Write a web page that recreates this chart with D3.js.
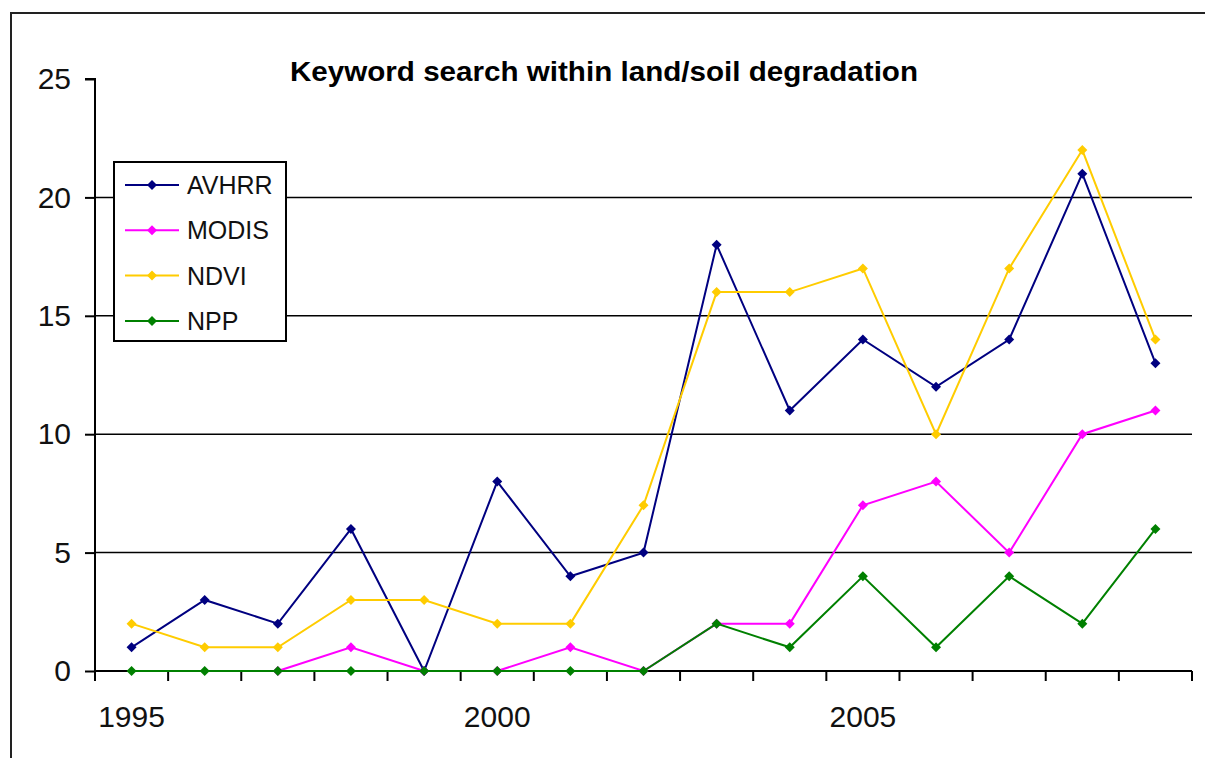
<!DOCTYPE html>
<html><head><meta charset="utf-8">
<script src="https://cdn.jsdelivr.net/npm/d3@7"></script>
<style>body{margin:0;background:#fff}svg{display:block}text{font-family:Arial,"Liberation Sans",sans-serif}</style>
</head><body><svg id="c" width="1205" height="758"></svg>
<script>
const years = [1995,1996,1997,1998,1999,2000,2001,2002,2003,2004,2005,2006,2007,2008,2009];
const AVHRR = [1,3,2,6,0,8,4,5,18,11,14,12,14,21,13];
const MODIS = [null,null,0,1,0,0,1,0,2,2,7,8,5,10,11];
const NDVI  = [2,1,1,3,3,2,2,7,16,16,17,10,17,22,14];
const NPP   = [0,0,0,0,0,0,0,0,2,1,4,1,4,2,6];
const seriesNames = ["AVHRR","MODIS","NDVI","NPP"];
const seriesColors = ["#000080","#FF00FF","#FFCC00","#008000"];
const yTicks = [0,5,10,15,20,25];
const xLabels = [1995,2000,2005];
const title = "Keyword search within land/soil degradation";

const series = [AVHRR, MODIS, NDVI, NPP];
const svg = d3.select("#c");
const L=95, R=1192, T=79, B=671;

svg.append("rect").attr("x",11).attr("y",13).attr("width",1220).attr("height",780)
  .attr("fill","none").attr("stroke","#222").attr("stroke-width",2);

const x = d3.scaleBand().domain(years).range([L,R]);
const y = d3.scaleLinear().domain([0,25]).range([B,T]);

// gridlines
svg.append("g").selectAll("line").data(yTicks.filter(v=>v>0&&v<25)).join("line")
  .attr("x1",L).attr("x2",R).attr("y1",d=>y(d)).attr("y2",d=>y(d))
  .attr("stroke","#000").attr("stroke-width",1.5);

// y axis
const ya = svg.append("g").attr("transform",`translate(${L},0)`)
  .call(d3.axisLeft(y).tickValues(yTicks).tickSize(10).tickPadding(14));
ya.select(".domain").attr("stroke","#000").attr("stroke-width",2).attr("d",`M-10,${T}H0V${B}`);
ya.selectAll(".tick line").attr("stroke","#000").attr("stroke-width",2);
ya.selectAll(".tick text").attr("font-size",30).attr("fill","#111");

// x axis
const xb = svg.append("g").attr("transform",`translate(0,${B})`);
xb.append("line").attr("x1",L).attr("x2",R).attr("y1",0).attr("y2",0).attr("stroke","#000").attr("stroke-width",2);
const edges = years.map(d=>x(d)).concat([R]);
xb.selectAll("line.t").data(edges).join("line").attr("class","t")
  .attr("x1",d=>d).attr("x2",d=>d).attr("y1",0).attr("y2",10).attr("stroke","#000").attr("stroke-width",2);
xb.selectAll("text").data(xLabels).join("text")
  .attr("x",d=>x(d)+x.bandwidth()/2).attr("y",56).attr("text-anchor","middle")
  .attr("font-size",30).attr("fill","#111").text(d=>d);

// lines
const line = d3.line().defined(d=>d[1]!=null).x(d=>x(d[0])+x.bandwidth()/2).y(d=>y(d[1]));
const marker = d3.symbol().type(d3.symbolSquare).size(50);
series.forEach((s,i)=>{
  const pts = years.map((yr,j)=>[yr,s[j]]);
  svg.append("path").datum(pts).attr("d",line).attr("fill","none")
    .attr("stroke",seriesColors[i]).attr("stroke-width",2);
  svg.append("g").selectAll("path").data(pts.filter(d=>d[1]!=null)).join("path")
    .attr("d",marker).attr("transform",d=>`translate(${x(d[0])+x.bandwidth()/2},${y(d[1])}) rotate(45)`)
    .attr("fill",seriesColors[i]);
});

// title
svg.append("text").attr("x",604).attr("y",81).attr("text-anchor","middle")
  .attr("font-size",27).attr("font-weight","bold").attr("fill","#000")
  .attr("textLength",628).attr("lengthAdjust","spacingAndGlyphs").text(title);

// legend
const lg = svg.append("g");
lg.append("rect").attr("x",114).attr("y",162).attr("width",172).attr("height",179)
  .attr("fill","#fff").attr("stroke","#000").attr("stroke-width",2);
seriesNames.forEach((n,i)=>{
  const yy = 185 + i*45.3;
  lg.append("line").attr("x1",125).attr("x2",179).attr("y1",yy).attr("y2",yy)
    .attr("stroke",seriesColors[i]).attr("stroke-width",2);
  lg.append("path").attr("d",marker).attr("transform",`translate(152,${yy}) rotate(45)`).attr("fill",seriesColors[i]);
  lg.append("text").attr("x",187).attr("y",yy+9).attr("font-size",25).attr("fill","#111").text(n);
});
</script></body></html>
